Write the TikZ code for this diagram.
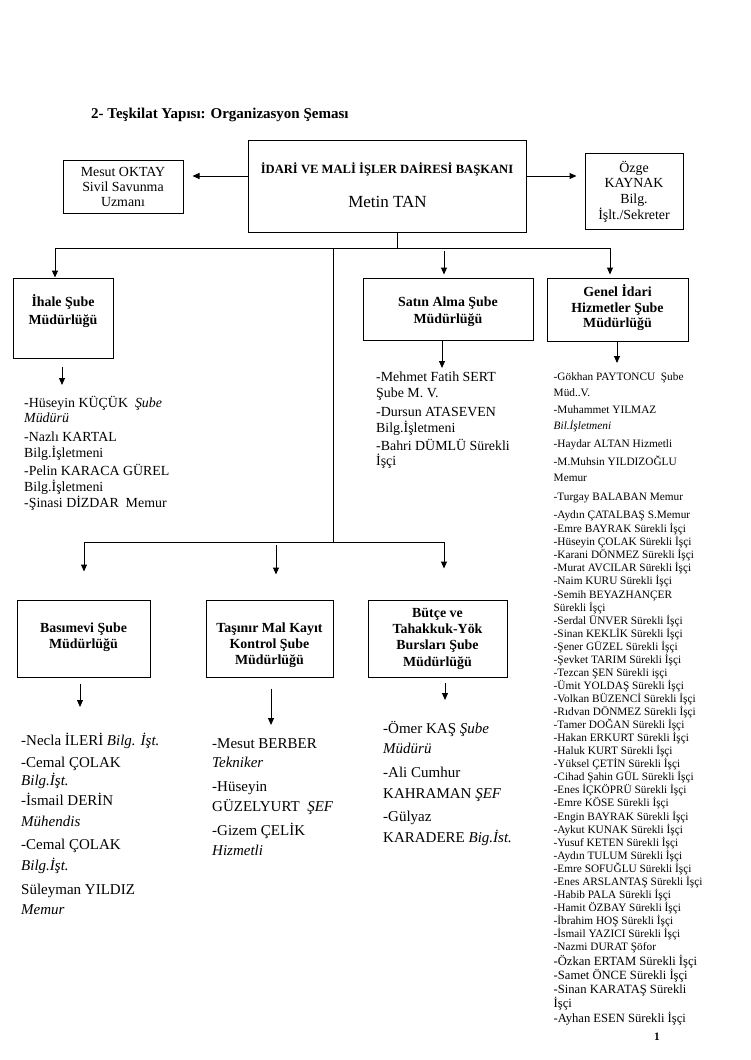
\documentclass[tikz,border=0pt]{standalone}
\usepackage{fontspec}
\setmainfont{Liberation Serif}
\usetikzlibrary{arrows.meta}
\newcommand\szS{\fontsize{11.3}{13.06}\selectfont}
\newcommand\szM{\fontsize{12.6}{14.3}\selectfont}
\newcommand\szL{\fontsize{13.9}{16}\selectfont}
\newcommand\szX{\fontsize{15}{18}\selectfont}
\begin{document}
\begin{tikzpicture}[x=1pt,y=-1pt,
  box/.style={draw, line width=1pt, inner sep=0},
  arr/.style={line width=1pt, -{Triangle[length=7pt,width=6pt]}},
  ln/.style={line width=1pt},
  txt/.style={inner sep=0, anchor=base west},
  btxt/.style={inner sep=0, align=center}
]
\useasboundingbox[fill=white] (0,0) rectangle (750,1060);

% title
\node[txt, font=\szX\bfseries] (title) at (91,118) {2- Teşkilat Yapısı: Organizasyon Şeması};

% top boxes
\node[box, minimum width=278pt, minimum height=92pt] (baskan) at (387.5,186) {};
\node[inner sep=0, font=\fontsize{12.6}{14}\selectfont\bfseries] (baskanT) at (387,169) {İDARİ VE MALİ İŞLER DAİRESİ BAŞKANI};
\node[inner sep=0, font=\fontsize{17}{20}\selectfont] (baskanN) at (387.5,202) {Metin TAN};

\node[box, minimum width=120pt, minimum height=53pt] (mesut) at (123,186.5) {};
\node[btxt, font=\fontsize{13.9}{15}\selectfont] (mesutT) at (123,187) {Mesut OKTAY\\Sivil Savunma\\Uzmanı};

\node[box, minimum width=98pt, minimum height=76pt] (ozge) at (634,191) {};
\node[btxt, font=\fontsize{13.9}{15.7}\selectfont] (ozgeT) at (634,191.5) {Özge\\KAYNAK\\Bilg.\\İşlt./Sekreter};

\draw[arr, shorten >=9pt] ([yshift=10pt]baskan.west) -- ([yshift=10.5pt]mesut.east);
\draw[arr, shorten >=8pt] ([yshift=10pt]baskan.east) -- ([yshift=15pt]ozge.west);

% second row boxes
\node[box, minimum width=100pt, minimum height=80pt] (ihale) at (63,318) {};
\node[btxt, font=\fontsize{13.9}{18}\selectfont\bfseries] (ihaleT) at (63,311) {İhale Şube\\Müdürlüğü};

\node[box, minimum width=170pt, minimum height=62pt] (satin) at (448,309) {};
\node[btxt, font=\fontsize{13.9}{17}\selectfont\bfseries] (satinT) at (448,311.5) {Satın Alma Şube\\Müdürlüğü};

\node[box, minimum width=141pt, minimum height=63pt] (genel) at (617.5,309.5) {};
\node[btxt, font=\fontsize{13.9}{15.5}\selectfont\bfseries] (genelT) at (617.5,307.7) {Genel İdari\\Hizmetler Şube\\Müdürlüğü};

% bottom row boxes
\node[box, minimum width=133pt, minimum height=77pt] (basim) at (83.5,638.5) {};
\node[btxt, font=\fontsize{13.9}{16}\selectfont\bfseries] (basimT) at (83.5,637) {Basımevi Şube\\Müdürlüğü};

\node[box, minimum width=127pt, minimum height=77pt] (tasinir) at (269.5,638.5) {};
\node[btxt, font=\fontsize{13.9}{16}\selectfont\bfseries] (tasinirT) at (269.5,645) {Taşınır Mal Kayıt\\Kontrol Şube\\Müdürlüğü};

\node[box, minimum width=139pt, minimum height=77pt] (butce) at (437.5,638.5) {};
\node[btxt, font=\fontsize{13.9}{16.3}\selectfont\bfseries] (butceT) at (437.5,638.5) {Bütçe ve\\Tahakkuk-Yök\\Bursları Şube\\Müdürlüğü};

% connector skeleton
\coordinate (j0) at (397,248);
\coordinate (jl) at (55,248);
\coordinate (jr) at (610,248);
\coordinate (jm) at (333,248);
\coordinate (jb) at (333,542);
\coordinate (jbl) at (84,542);
\coordinate (jbr) at (444,542);
\coordinate (jbm) at (276,545);
\coordinate (sa1) at (444,251);

\draw[ln] (baskan.south -| j0) -- (j0);
\draw[ln] (jl) -- (jr);
\draw[arr] (jl) -- (jl |- ihale.north);
\draw[arr, shorten >=3pt] (jr) -- (jr |- genel.north);
\draw[arr, shorten >=3pt] (sa1) -- (sa1 |- satin.north);
\draw[ln] (jm) -- (jb);
\draw[ln] (jbl) -- (jbr);
\draw[arr, shorten >=28pt] (jbl) -- (jbl |- basim.north);
\draw[arr, shorten >=25pt] (jbm) -- (jbm |- tasinir.north);
\draw[arr, shorten >=31pt] (jbr) -- (jbr |- butce.north);

% arrows to lists
\coordinate (ihaleA) at (62,385);
\coordinate (satinA) at (442,368);
\coordinate (genelA) at (617,363);
\coordinate (basimA) at (80,707);
\coordinate (tasinirA) at (271,725);
\coordinate (butceA) at (445,700);
\draw[arr, shorten <=8pt] (ihaleA |- ihale.south) -- (ihaleA);
\draw[arr] (satinA |- satin.south) -- (satinA);
\draw[arr] (genelA |- genel.south) -- (genelA);
\draw[arr, shorten <=6pt] (basimA |- basim.south) -- (basimA);
\draw[arr, shorten <=11pt] (tasinirA |- tasinir.south) -- (tasinirA);
\draw[arr, shorten <=5pt] (butceA |- butce.south) -- (butceA);

% Ihale list
\foreach \y/\t [count=\i] in {407.6/{-Hüseyin KÜÇÜK\ \ \textit{Şube}}, 422.6/{\textit{Müdürü}}, 441.6/{-Nazlı KARTAL}, 457.6/{Bilg.İşletmeni}, 475.6/{-Pelin KARACA GÜREL}, 491.6/{Bilg.İşletmeni}, 507.6/{-Şinasi DİZDAR\ \ Memur}}
  \node[txt, font=\szL] (ih\i) at (24,\y) {\t};

% Satin list
\foreach \y/\t [count=\i] in {381.6/{-Mehmet Fatih SERT}, 397.6/{Şube M. V.}, 416.6/{-Dursun ATASEVEN}, 432.6/{Bilg.İşletmeni}, 450.6/{-Bahri DÜMLÜ Sürekli}, 465.6/{İşçi}}
  \node[txt, font=\szL] (sa\i) at (376,\y) {\t};

% Genel list, top part
\foreach \y/\t [count=\i] in {380.7/{-Gökhan PAYTONCU\ \ Şube}, 396.7/{Müd..V.}, 413.7/{-Muhammet YILMAZ}, 429.7/{\textit{Bil.İşletmeni}}, 447.7/{-Haydar ALTAN Hizmetli}, 465.7/{-M.Muhsin YILDIZOĞLU}, 481.7/{Memur}, 500.7/{-Turgay BALABAN Memur}, 518.7/{-Aydın ÇATALBAŞ S.Memur}}
  \node[txt, font=\szS] (ga\i) at (553.5,\y) {\t};

% Genel list, dense block
\foreach \t [count=\i] in {{-Emre BAYRAK Sürekli İşçi}, {-Hüseyin ÇOLAK Sürekli İşçi}, {-Karani DÖNMEZ Sürekli İşçi}, {-Murat AVCILAR Sürekli İşçi}, {-Naim KURU Sürekli İşçi}, {-Semih BEYAZHANÇER}, {Sürekli İşçi}, {-Serdal ÜNVER Sürekli İşçi}, {-Sinan KEKLİK Sürekli İşçi}, {-Şener GÜZEL Sürekli İşçi}, {-Şevket TARIM Sürekli İşçi}, {-Tezcan ŞEN Sürekli işçi}, {-Ümit YOLDAŞ Sürekli İşçi}, {-Volkan BÜZENCİ Sürekli İşçi}, {-Rıdvan DÖNMEZ Sürekli İşçi}, {-Tamer DOĞAN Sürekli İşçi}, {-Hakan ERKURT Sürekli İşçi}, {-Haluk KURT Sürekli İşçi}, {-Yüksel ÇETİN Sürekli İşçi}, {-Cihad Şahin GÜL Sürekli İşçi}, {-Enes İÇKÖPRÜ Sürekli İşçi}, {-Emre KÖSE Sürekli İşçi}, {-Engin BAYRAK Sürekli İşçi}, {-Aykut KUNAK Sürekli İşçi}, {-Yusuf KETEN Sürekli İşçi}, {-Aydın TULUM Sürekli İşçi}, {-Emre SOFUĞLU Sürekli İşçi}, {-Enes ARSLANTAŞ Sürekli İşçi}, {-Habib PALA Sürekli İşçi}, {-Hamit ÖZBAY Sürekli İşçi}, {-İbrahim HOŞ Sürekli İşçi}, {-İsmail YAZICI Sürekli İşçi}, {-Nazmi DURAT Şöfor}}
  \node[txt, font=\szS] (gb\i) at (553.5,{532.7+13.06*(\i-1)}) {\t};

% Genel list, last part
\foreach \y/\t [count=\i] in {965.2/{-Özkan ERTAM Sürekli İşçi}, 979.2/{-Samet ÖNCE Sürekli İşçi}, 993.2/{-Sinan KARATAŞ Sürekli}, 1007.2/{İşçi}, 1022.2/{-Ayhan ESEN Sürekli İşçi}}
  \node[txt, font=\szM] (gc\i) at (553.5,\y) {\t};

% Basimevi list
\foreach \y/\t [count=\i] in {745.7/{-Necla İLERİ \textit{Bilg. İşt.}}, 767/{-Cemal ÇOLAK}, 785/{\textit{Bilg.İşt.}}, 805/{-İsmail DERİN}, 826/{\textit{Mühendis}}, 849/{-Cemal ÇOLAK}, 870/{\textit{Bilg.İşt.}}, 894/{Süleyman YILDIZ}, 914/{\textit{Memur}}}
  \node[txt, font=\szX] (bm\i) at (21,\y) {\t};

% Tasinir list
\foreach \y/\t [count=\i] in {748/{-Mesut BERBER}, 767/{\textit{Tekniker}}, 791/{-Hüseyin}, 811/{GÜZELYURT\ \ \textit{ŞEF}}, 835/{-Gizem ÇELİK}, 855/{\textit{Hizmetli}}}
  \node[txt, font=\szX] (tk\i) at (212,\y) {\t};

% Butce list
\foreach \y/\t [count=\i] in {733/{-Ömer KAŞ \textit{Şube}}, 753/{\textit{Müdürü}}, 777/{-Ali Cumhur}, 798/{KAHRAMAN \textit{ŞEF}}, 821/{-Gülyaz}, 842/{KARADERE \textit{Big.İst.}}}
  \node[txt, font=\szX] (bt\i) at (383,\y) {\t};

% page number
\node[inner sep=0, anchor=base, font=\szS\bfseries] (pageno) at (657,1040) {1};
\end{tikzpicture}
\end{document}
